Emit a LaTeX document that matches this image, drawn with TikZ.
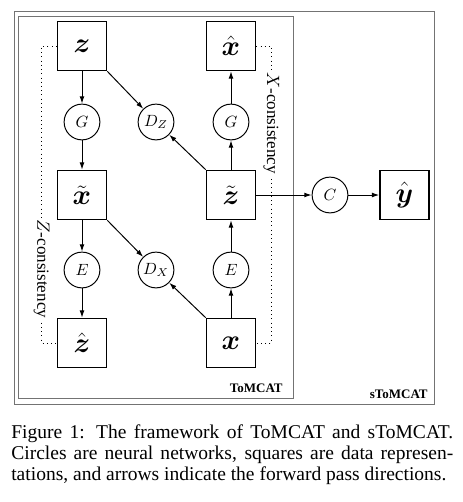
\documentclass[tikz,border=0pt]{standalone}
\usepackage{amsmath}
\usepackage{fontspec}
\setmainfont{Liberation Serif}
\usetikzlibrary{arrows.meta}
\tikzset{
  data/.style={draw,line width=1pt,minimum size=30.1pt,inner sep=0pt,font=\LARGE},
  net/.style={draw,circle,line width=0.6pt,minimum size=22pt,inner sep=0pt},
  pass/.style={line width=0.6pt,-{Latex[length=4.5pt,width=3pt]}},
  cons/.style={dotted,line width=0.6pt},
  frame/.style={draw=black!55,line width=0.6pt}
}
\begin{document}
\begin{tikzpicture}[x=0.615pt,y=-0.615pt]
\useasboundingbox (0,0) rectangle (463,502);
% frames
\draw[frame] (14.5,11.7) rectangle (434,404);
\draw[frame] (18.5,16) rectangle (293,398.5);
\node[anchor=base east,inner sep=0,font=\footnotesize\bfseries] (tomcat) at (283,392.5) {ToMCAT};
\node[anchor=base east,inner sep=0,font=\footnotesize\bfseries] (stomcat) at (428,398) {sToMCAT};
% data representations
\node[data] (z) at (82,46) {$\boldsymbol{z}$};
\node[data] (xt) at (82,195) {$\tilde{\boldsymbol{x}}$};
\node[data] (zh) at (82,343) {$\hat{\boldsymbol{z}}$};
\node[data] (xh) at (231,46) {$\hat{\boldsymbol{x}}$};
\node[data] (zt) at (231,195) {$\tilde{\boldsymbol{z}}$};
\node[data] (x) at (231,343) {$\boldsymbol{x}$};
\node[data] (yh) at (404.5,195) {$\hat{\boldsymbol{y}}$};
% networks
\node[net] (gz) at (82,122) {$G$};
\node[net] (dz) at (156,122) {$D_Z$};
\node[net] (gx) at (231,122) {$G$};
\node[net] (ex) at (82,270) {$E$};
\node[net] (dx) at (156,270) {$D_X$};
\node[net] (ez) at (231,270) {$E$};
\node[net] (c) at (330,195) {$C$};
% forward passes
\draw[pass] (z) -- (gz); \draw[pass] (gz) -- (xt);
\draw[pass] (xt) -- (ex); \draw[pass] (ex) -- (zh);
\draw[pass] (x) -- (ez); \draw[pass] (ez) -- (zt);
\draw[pass] (zt) -- (gx); \draw[pass] (gx) -- (xh);
\draw[pass] (z.south east) -- (dz); \draw[pass] (zt.north west) -- (dz);
\draw[pass] (xt.south east) -- (dx); \draw[pass] (x.north west) -- (dx);
\draw[pass] (zt) -- (c); \draw[pass] (c) -- (yh);
% consistency
\draw[cons] (z.west) -- ++(-15,0) |- (zh.west) node[pos=0.375,rotate=-90,fill=white,inner sep=1pt,font=\fontsize{10.5}{12}\selectfont] (zcons) {$Z$-consistency};
\draw[cons] (xh.east) -- ++(15,0) |- (x.east) node[pos=0.13,rotate=-90,fill=white,inner sep=1pt,font=\fontsize{10.5}{12}\selectfont] (xcons) {$X$-consistency};
% caption
\node[anchor=base west,inner sep=0,text width=271.8pt,align=justify,font=\fontsize{12}{13}\selectfont] (caption) at (11,438.3)
{\parfillskip=0pt Figure 1: The framework of ToMCAT and sToMCAT.\linebreak Circles are neural networks, squares are data represen-\linebreak tations, and arrows indicate the forward pass directions.};
\end{tikzpicture}
\end{document}
